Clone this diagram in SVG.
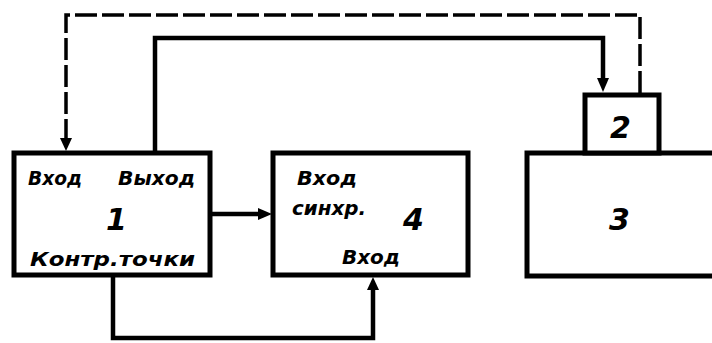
<svg xmlns="http://www.w3.org/2000/svg" width="712" height="343" viewBox="0 0 712 343">
<style>
.box{fill:#fff;stroke:#000;stroke-width:5}
.ln{fill:none;stroke:#000;stroke-width:4.5}
.dash{fill:none;stroke:#000;stroke-width:3.5;stroke-dasharray:22 5}
.t{font-family:"DejaVu Sans","Liberation Sans",sans-serif;font-style:italic;font-weight:bold;font-size:19px;fill:#000}
.n{font-family:"DejaVu Sans","Liberation Sans",sans-serif;font-style:italic;font-weight:bold;font-size:30px;fill:#000}
</style>
<rect width="712" height="343" fill="#fff"/>
<g id="connectors">
<path class="dash" d="M640,93 V15 H66 V140"/>
<path d="M60,138 L72,138 L66,151 Z" fill="#000"/>
<path class="ln" d="M155,153 V38 H603 V80"/>
<path d="M597,78 L609,78 L603,92 Z" fill="#000"/>
<path class="ln" d="M210,214 H262"/>
<path d="M258,208 L258,220 L272,214 Z" fill="#000"/>
<path class="ln" d="M113,275 V338 H373 V289"/>
<path d="M367,290 L379,290 L373,277 Z" fill="#000"/>
</g>
<g id="node1">
<rect class="box" x="14" y="153" width="196" height="122"/>
<text class="t" x="28" y="185" textLength="54" lengthAdjust="spacingAndGlyphs">Вход</text>
<text class="t" x="118" y="185" textLength="77" lengthAdjust="spacingAndGlyphs">Выход</text>
<text class="n" x="106" y="230">1</text>
<text class="t" x="30" y="266" textLength="165" lengthAdjust="spacingAndGlyphs">Контр.точки</text>
</g>
<g id="node4">
<rect class="box" x="273" y="153" width="195" height="122"/>
<text class="t" x="297" y="185" textLength="60" lengthAdjust="spacingAndGlyphs">Вход</text>
<text class="t" x="292" y="215" textLength="74" lengthAdjust="spacingAndGlyphs">синхр.</text>
<text class="n" x="403" y="230">4</text>
<text class="t" x="342" y="264" textLength="58" lengthAdjust="spacingAndGlyphs">Вход</text>
</g>
<g id="node3">
<rect class="box" x="527" y="153" width="190" height="123"/>
<text class="n" x="609" y="230">3</text>
</g>
<g id="node2">
<rect class="box" x="585" y="95" width="74" height="58"/>
<text class="n" x="610" y="138">2</text>
</g>
</svg>
